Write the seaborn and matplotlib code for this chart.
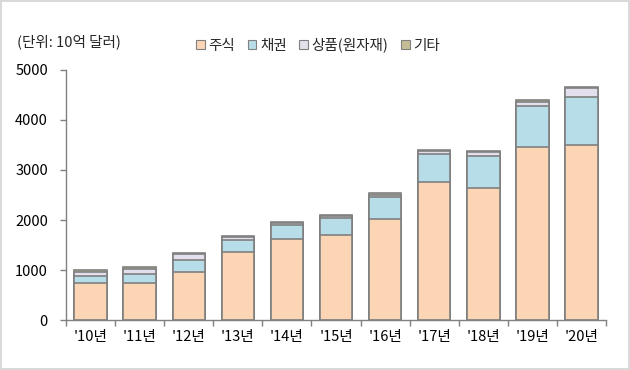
import pandas as pd
import numpy as np
import seaborn as sns
import matplotlib.pyplot as plt
from matplotlib.patches import Patch

years = ["'10년", "'11년", "'12년", "'13년", "'14년", "'15년", "'16년", "'17년", "'18년", "'19년", "'20년"]
stock = [735, 735, 955, 1355, 1615, 1695, 2015, 2755, 2635, 3455, 3495]
bond = [140, 180, 240, 240, 280, 340, 440, 560, 640, 820, 960]
commodity = [95, 115, 125, 65, 50, 45, 50, 60, 80, 90, 185]
other = [30, 30, 20, 20, 25, 20, 25, 25, 20, 30, 20]

names = ['주식', '채권', '상품(원자재)', '기타']
colors = ['#FCD5B5', '#B7DEE8', '#E4DFEC', '#C4BD97']

df = pd.DataFrame({'year': years, '주식': stock, '채권': bond, '상품(원자재)': commodity, '기타': other})
cum = df[names].cumsum(axis=1)  # stacked tops

sns.set_theme(style='white')
plt.rcParams['font.family'] = ['Noto Sans CJK KR', 'DejaVu Sans']

fig = plt.figure(figsize=(6.3, 3.7), dpi=100)
ax = fig.add_axes([0.1048, 0.135, 0.8572, 0.676])

# draw tallest stack first, then overlay the lower parts
for name, col in reversed(list(zip(names, colors))):
    sns.barplot(x=df['year'], y=cum[name], color=col, saturation=1, width=0.66,
                edgecolor='#808080', linewidth=1.2, ax=ax)

ax.set_xlim(-0.5, 10.5)
ax.set_ylim(0, 5000)
ax.set_yticks(np.arange(0, 5001, 1000))
ax.set_xlabel('')
ax.set_ylabel('')

for s in ['top', 'right']:
    ax.spines[s].set_visible(False)
for s in ['left', 'bottom']:
    ax.spines[s].set_color('#808080')
    ax.spines[s].set_linewidth(1.0)

ax.set_xticks(np.arange(-0.5, 11, 1), minor=True)
ax.tick_params(axis='x', which='major', length=0, pad=7, labelsize=10.5, colors='black')
ax.tick_params(axis='x', which='minor', direction='out', length=4, width=1, color='#808080', bottom=True)
ax.tick_params(axis='y', direction='out', length=4, width=1, color='#808080', left=True,
               pad=9, labelsize=10.5, labelcolor='black')

fig.text(0.027, 0.886, '(단위: 10억 달러)', fontsize=10.5, va='center', ha='left')

handles = [Patch(facecolor=c, edgecolor='#808080', linewidth=0.8) for c in colors]
fig.legend(handles, names, loc='center', bbox_to_anchor=(0.505, 0.878), ncol=4, frameon=False,
           fontsize=10.5, handlelength=0.6, handleheight=0.6, handletextpad=0.25,
           columnspacing=0.85, borderaxespad=0)

fig.patch.set_edgecolor('#d9d9d9')
fig.patch.set_linewidth(1.5)

fig.savefig('out.png', dpi=100, edgecolor=fig.get_edgecolor())
